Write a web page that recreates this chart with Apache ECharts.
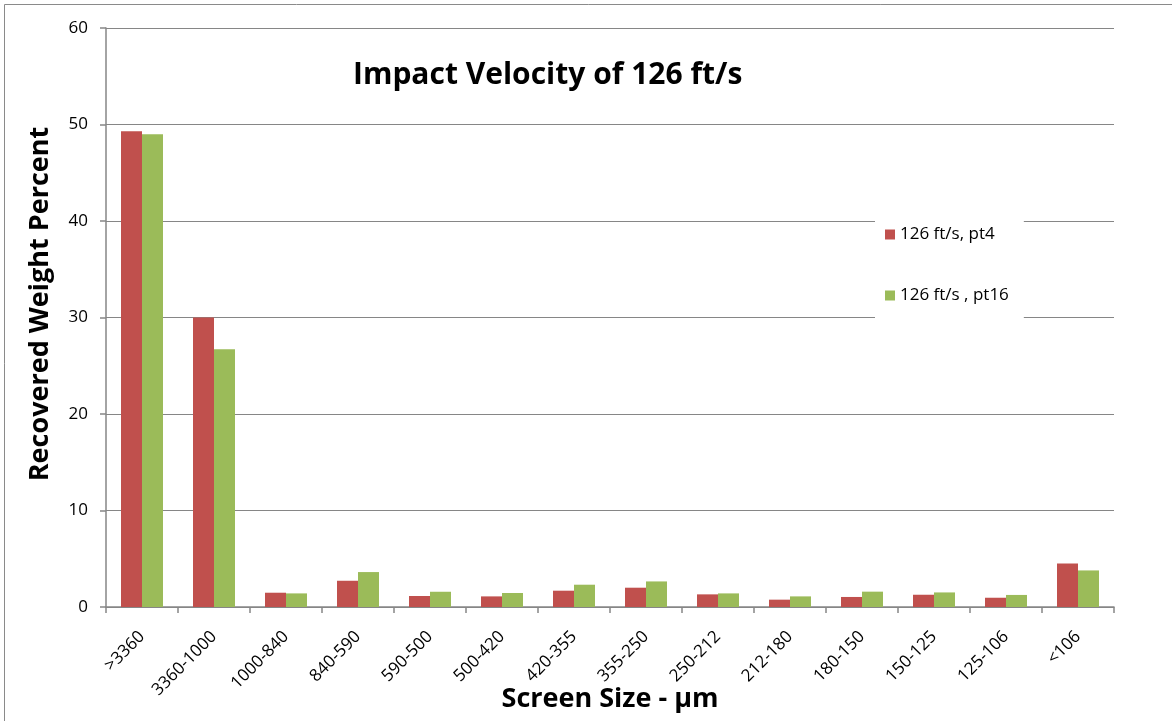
<!DOCTYPE html>
<html>
<head>
<meta charset="utf-8">
<script src="https://cdn.jsdelivr.net/npm/echarts@6/dist/echarts.min.js"></script>
<style>
  html, body { margin: 0; padding: 0; background: #fff; }
  #chart { width: 1172px; height: 721px; }
</style>
</head>
<body>
<div id="chart"></div>
<script>
// screen size classes (µm)
const categories = ['>3360', '3360-1000', '1000-840', '840-590', '590-500', '500-420', '420-355',
  '355-250', '250-212', '212-180', '180-150', '150-125', '125-106', '<106'];
const seriesNames = ['126 ft/s, pt4', '126 ft/s , pt16'];
const pt4 = [49.3, 30.0, 1.48, 2.72, 1.14, 1.10, 1.69, 2.0, 1.31, 0.76, 1.04, 1.27, 0.96, 4.52];
const pt16 = [49.0, 26.7, 1.41, 3.62, 1.58, 1.45, 2.31, 2.65, 1.41, 1.10, 1.59, 1.51, 1.25, 3.79];
const yTicks = { min: 0, max: 60, interval: 10 };

const FONT = '"Open Sans"';
const gray = '#868686';

const chart = echarts.init(document.getElementById('chart'));

// axis titles are placed by hand (graphic) so the rotated tick labels don't push them around
function axisTitle(text, x, y, rotation) {
  return {
    type: 'text',
    x: x,
    y: y,
    rotation: rotation,
    style: {
      text: text,
      fontSize: 27,
      fontWeight: 'bold',
      fontFamily: FONT,
      fill: '#000',
      align: 'center',
      verticalAlign: 'middle'
    }
  };
}

chart.setOption({
  animation: false,
  textStyle: { fontFamily: FONT },
  title: {
    text: 'Impact Velocity of 126 ft/s',
    left: 353,
    top: 60,
    padding: 0,
    textStyle: { fontSize: 30, fontWeight: 'bold', color: '#000', fontFamily: FONT }
  },
  legend: {
    orient: 'vertical',
    left: 875,
    top: 218,
    padding: [8, 15, 14, 10],
    itemGap: 44,
    itemWidth: 10,
    itemHeight: 10,
    backgroundColor: '#fff',
    icon: 'rect',
    textStyle: { fontSize: 17, color: '#000', fontFamily: FONT }
  },
  grid: { left: 106, right: 58, top: 28, bottom: 114, outerBoundsMode: 'none' },
  xAxis: {
    type: 'category',
    data: categories,
    axisLine: { lineStyle: { color: gray, width: 1.5 } },
    axisTick: { show: true, length: 6, lineStyle: { color: gray, width: 1.5 } },
    axisLabel: { interval: 0, rotate: 45, margin: 27, fontSize: 17, color: '#000' }
  },
  yAxis: {
    type: 'value',
    min: yTicks.min,
    max: yTicks.max,
    interval: yTicks.interval,
    axisLine: { show: true, lineStyle: { color: gray, width: 1.5 } },
    axisTick: { show: true, length: 6, lineStyle: { color: gray, width: 1.5 } },
    axisLabel: { margin: 18, fontSize: 17, color: '#000' },
    splitLine: { lineStyle: { color: gray, width: 1 } }
  },
  graphic: [
    {
      type: 'rect',
      shape: { x: 4.5, y: 4.5, width: 1200, height: 800 },
      style: { fill: 'none', stroke: '#8a8a8a', lineWidth: 1 },
      silent: true
    },
    axisTitle('Recovered Weight Percent', 40, 304, Math.PI / 2),
    axisTitle('Screen Size - \u03bcm', 610, 699, 0)
  ],
  series: [
    {
      name: seriesNames[0],
      type: 'bar',
      data: pt4,
      barWidth: 21,
      barGap: '0%',
      itemStyle: { color: '#C0504D' }
    },
    {
      name: seriesNames[1],
      type: 'bar',
      data: pt16,
      barWidth: 21,
      barGap: '0%',
      itemStyle: { color: '#9BBB59' }
    }
  ]
});
</script>
</body>
</html>
